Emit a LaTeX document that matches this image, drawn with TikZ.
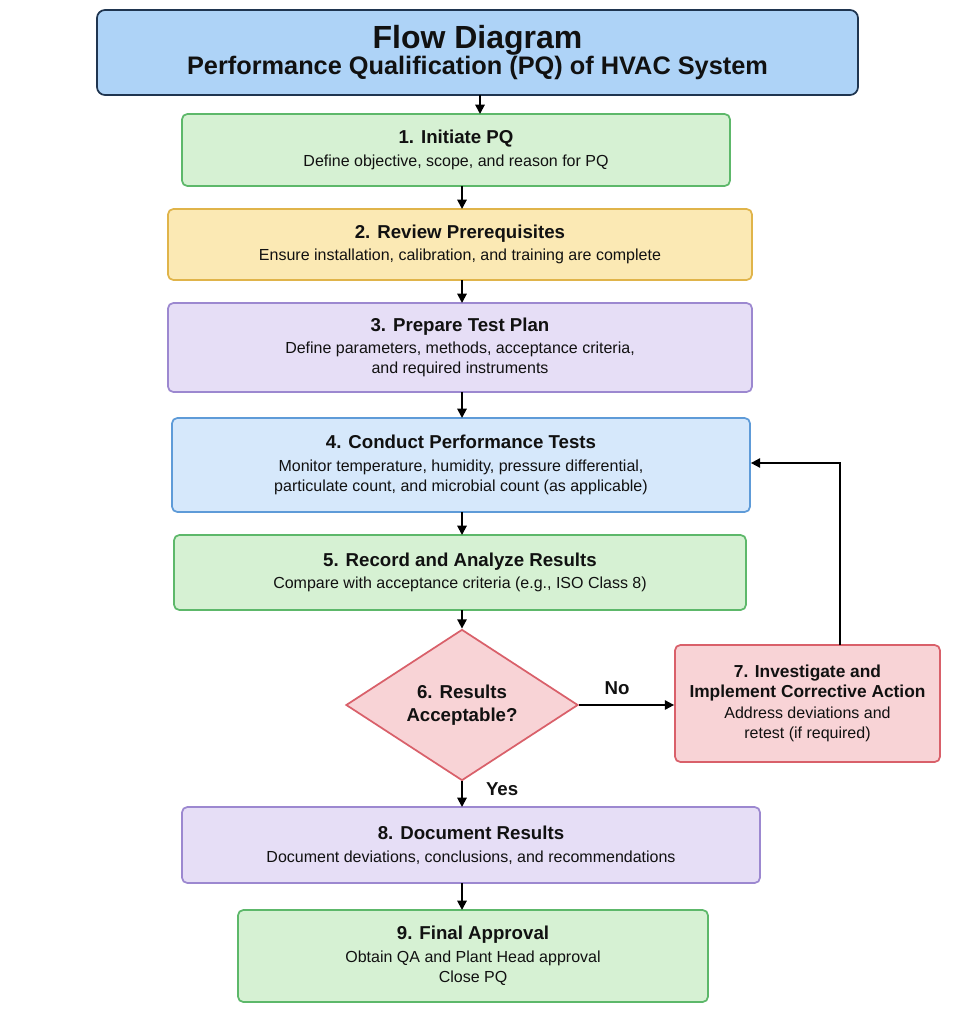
\documentclass[tikz,border=0pt]{standalone}
\usepackage{fontspec}
\setmainfont{Liberation Sans}
\usetikzlibrary{shapes.geometric,arrows.meta}
\definecolor{tfill}{HTML}{AED3F7}\definecolor{tdraw}{HTML}{1F3550}
\definecolor{gfill}{HTML}{D6F1D3}\definecolor{gdraw}{HTML}{5DB86A}
\definecolor{yfill}{HTML}{FBE9B4}\definecolor{ydraw}{HTML}{E0B44A}
\definecolor{pfill}{HTML}{E6DEF6}\definecolor{pdraw}{HTML}{9C88D0}
\definecolor{bfill}{HTML}{D6E8FB}\definecolor{bdraw}{HTML}{5E9BD8}
\definecolor{rfill}{HTML}{F8D3D6}\definecolor{rdraw}{HTML}{D9606A}
\definecolor{txt}{HTML}{111111}
\tikzset{
 box/.style={draw, line width=1.3pt, rounded corners=4pt, align=center, text=txt, inner sep=2pt, font=\fontsize{12}{15}\selectfont},
 gbox/.style={box, fill=gfill, draw=gdraw}, ybox/.style={box, fill=yfill, draw=ydraw},
 pbox/.style={box, fill=pfill, draw=pdraw}, bbox/.style={box, fill=bfill, draw=bdraw},
 rbox/.style={box, fill=rfill, draw=rdraw},
 arr/.style={line width=1.4pt, -{Triangle[length=7pt,width=7pt]}},
 hd/.style={font=\fontsize{14}{17}\selectfont\bfseries}
}
\newcommand{\hh}[1]{{\fontsize{14}{18}\selectfont\bfseries #1}\\[2pt]}
\begin{document}
\begin{tikzpicture}[x=0.75pt,y=-0.75pt]
\useasboundingbox[fill=white] (0,0) rectangle (955,1024);
\node[box, fill=tfill, draw=tdraw, minimum width=761*0.75pt, minimum height=85*0.75pt, rounded corners=6pt] (t) at (477.5,52.5)
 {{\fontsize{24}{27}\selectfont\bfseries Flow Diagram}\\{\fontsize{19}{23}\selectfont\bfseries Performance Qualification (PQ) of HVAC System}};
\node[gbox, minimum width=548*0.75pt, minimum height=72*0.75pt] (n1) at (456,150) {\hh{1. Initiate PQ}Define objective, scope, and reason for PQ};
\node[ybox, minimum width=584*0.75pt, minimum height=71*0.75pt] (n2) at (460,244.5) {\hh{2. Review Prerequisites}Ensure installation, calibration, and training are complete};
\node[pbox, minimum width=584*0.75pt, minimum height=89*0.75pt] (n3) at (460,347.5) {\hh{3. Prepare Test Plan}Define parameters, methods, acceptance criteria,\\and required instruments};
\node[bbox, minimum width=578*0.75pt, minimum height=94*0.75pt] (n4) at (461,465) {\hh{4. Conduct Performance Tests}Monitor temperature, humidity, pressure differential,\\particulate count, and microbial count (as applicable)};
\node[gbox, minimum width=572*0.75pt, minimum height=75*0.75pt] (n5) at (460,572.5) {\hh{5. Record and Analyze Results}Compare with acceptance criteria (e.g., ISO Class 8)};
\node[diamond, draw=rdraw, fill=rfill, line width=1.3pt, minimum width=232*0.75pt, minimum height=138*0.75pt, inner sep=0pt, align=center, text=txt, font=\fontsize{14}{17}\selectfont\bfseries] (n6) at (462,705) {6. Results\\Acceptable?};
\node[rbox, minimum width=265*0.75pt, minimum height=117*0.75pt] (n7) at (807.5,703.5) {{\fontsize{13}{16}\selectfont\bfseries 7. Investigate and}\\{\fontsize{13}{16}\selectfont\bfseries Implement Corrective Action}\\[1pt]Address deviations and\\retest (if required)};
\node[pbox, minimum width=578*0.75pt, minimum height=76*0.75pt] (n8) at (471,845) {\hh{8. Document Results}Document deviations, conclusions, and recommendations};
\node[gbox, minimum width=470*0.75pt, minimum height=92*0.75pt] (n9) at (473,956) {\hh{9. Final Approval}Obtain QA and Plant Head approval\\Close PQ};
\draw[arr] (480,95) -- (480,114);
\draw[arr] (462,186) -- (462,209);
\draw[arr] (462,280) -- (462,303);
\draw[arr] (462,392) -- (462,418);
\draw[arr] (462,512) -- (462,535);
\draw[arr] (462,610) -- (n6.north);
\draw[arr] (n6.east) -- (n6.east -| n7.west) node[pos=0.4, above=4pt, hd, text=txt] (no) {No};
\draw[arr] (n6.south) -- (462,807) node[pos=0.3, right=14pt, hd, text=txt] (yes) {Yes};
\draw[arr] (462,883) -- (462,910);
\draw[arr] (840,645) -- (840,463) -- (n4.east |- 0,463);
\end{tikzpicture}
\end{document}
